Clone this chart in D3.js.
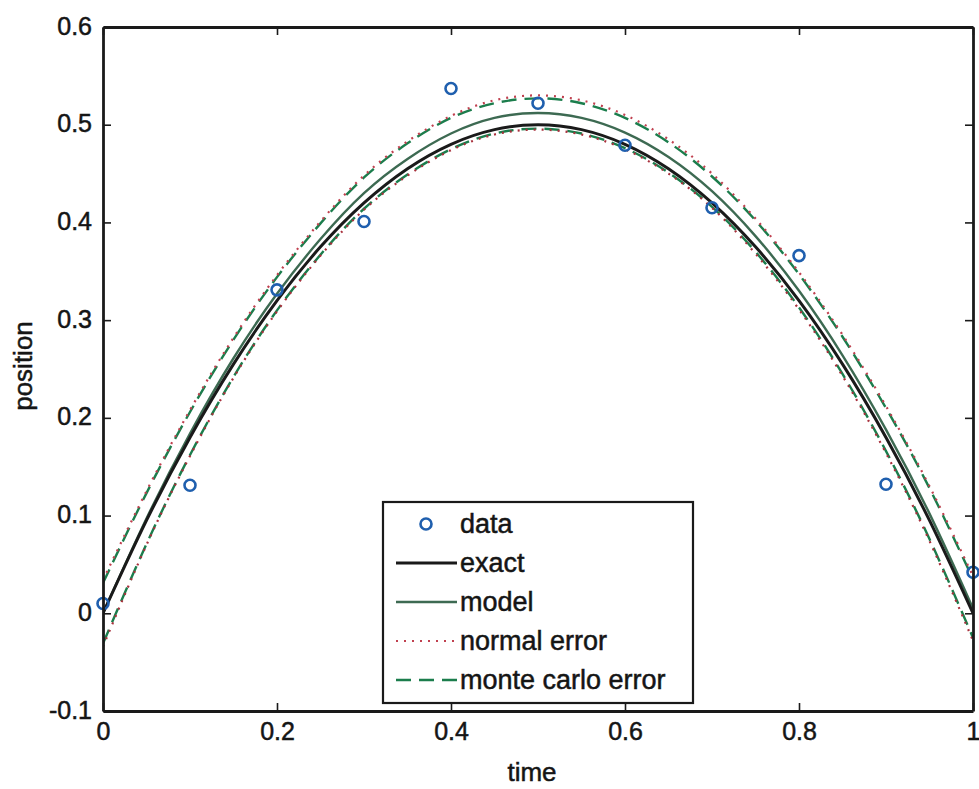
<!DOCTYPE html>
<html lang="en">
<head>
  <meta charset="UTF-8">
  <title>position vs time</title>
  <style>
    body { margin: 0; background: #fff; font-family: "Liberation Sans", Arial, sans-serif; }
    svg { display: block; }
    .tick text { font-size: 25px; fill: #151515; stroke: #151515; stroke-width: 0.5px; font-family: "Liberation Sans", Arial, sans-serif; }
    .label { font-size: 26px; fill: #151515; stroke: #151515; stroke-width: 0.5px; }
    .legend text { font-size: 27px; fill: #151515; stroke: #151515; stroke-width: 0.5px; }
  </style>
</head>
<body>
  <svg width="979" height="789"></svg>
  <script src="https://d3js.org/d3.v7.min.js"></script>
  <script>
    // sample times for the curves
    const times = [0, 0.05, 0.1, 0.15, 0.2, 0.25, 0.3, 0.35, 0.4, 0.45, 0.5,
                   0.55, 0.6, 0.65, 0.7, 0.75, 0.8, 0.85, 0.9, 0.95, 1];

    // measured points
    const dataT = [0, 0.1, 0.2, 0.3, 0.4, 0.5, 0.6, 0.7, 0.8, 0.9, 1];
    const dataY = [0.010, 0.131, 0.331, 0.401, 0.537, 0.522, 0.479, 0.415, 0.366, 0.132, 0.042];

    const exact = [0, 0.095, 0.18, 0.255, 0.32, 0.375, 0.42, 0.455, 0.48, 0.495, 0.5,
                   0.495, 0.48, 0.455, 0.42, 0.375, 0.32, 0.255, 0.18, 0.095, 0];
    const model = [0.000, 0.097, 0.184, 0.261, 0.327, 0.383, 0.430, 0.465, 0.491, 0.507, 0.512,
                   0.507, 0.492, 0.467, 0.432, 0.386, 0.330, 0.264, 0.188, 0.102, 0.005];

    const normalUpper = [0.034, 0.125, 0.208, 0.282, 0.346, 0.401, 0.448, 0.483, 0.509, 0.525, 0.530,
                         0.525, 0.510, 0.485, 0.450, 0.404, 0.349, 0.285, 0.212, 0.130, 0.038];
    const normalLower = [-0.034, 0.070, 0.161, 0.241, 0.309, 0.366, 0.413, 0.448, 0.474, 0.490, 0.495,
                         0.490, 0.475, 0.450, 0.415, 0.368, 0.311, 0.243, 0.164, 0.074, -0.028];
    const mcUpper = [0.031, 0.123, 0.206, 0.280, 0.344, 0.399, 0.446, 0.481, 0.507, 0.522, 0.527,
                     0.522, 0.507, 0.482, 0.447, 0.402, 0.347, 0.283, 0.210, 0.128, 0.035];
    const mcLower = [-0.031, 0.071, 0.162, 0.242, 0.310, 0.367, 0.414, 0.449, 0.475, 0.491, 0.496,
                     0.491, 0.476, 0.451, 0.416, 0.370, 0.313, 0.245, 0.166, 0.076, -0.025];

    const xTicks = [0, 0.2, 0.4, 0.6, 0.8, 1];
    const yTicks = [-0.1, 0, 0.1, 0.2, 0.3, 0.4, 0.5, 0.6];

    const svg = d3.select("svg");
    const m = { left: 103, right: 973, top: 27, bottom: 711 };

    const x = d3.scaleLinear().domain([0, 1]).range([m.left, m.right]);
    const y = d3.scaleLinear().domain([-0.1, 0.6]).range([m.bottom, m.top]);

    // MATLAB-style labels with a plain hyphen for negatives
    const fmt = d => d === 0 ? "0" : (d === 1 ? "1" : d.toFixed(1));

    const plot = svg.append("g");
    plot.append("clipPath").attr("id", "clip")
      .append("rect").attr("x", m.left).attr("y", m.top)
      .attr("width", m.right - m.left).attr("height", m.bottom - m.top);

    const line = d3.line().curve(d3.curveNatural).x((d, i) => x(times[i])).y(d => y(d));
    const curves = plot.append("g").attr("clip-path", "url(#clip)").attr("fill", "none");

    curves.append("path").datum(mcUpper).attr("d", line)
      .attr("stroke", "#1b7d4c").attr("stroke-width", 2.4).attr("stroke-dasharray", "15,8");
    curves.append("path").datum(mcLower).attr("d", line)
      .attr("stroke", "#1b7d4c").attr("stroke-width", 2.4).attr("stroke-dasharray", "15,8");
    curves.append("path").datum(normalUpper).attr("d", line)
      .attr("stroke", "#c0404f").attr("stroke-width", 2.2).attr("stroke-dasharray", "2,6");
    curves.append("path").datum(normalLower).attr("d", line)
      .attr("stroke", "#a8303c").attr("stroke-width", 2.2).attr("stroke-dasharray", "2,6");
    curves.append("path").datum(model).attr("d", line)
      .attr("stroke", "#3d6a52").attr("stroke-width", 2.4);
    curves.append("path").datum(exact).attr("d", line)
      .attr("stroke", "#1a1a1a").attr("stroke-width", 3);

    plot.append("g").selectAll("circle")
      .data(dataY)
      .join("circle")
      .attr("cx", (d, i) => x(dataT[i]))
      .attr("cy", d => y(d))
      .attr("r", 5.5)
      .attr("fill", "none")
      .attr("stroke", "#1f5fae")
      .attr("stroke-width", 2.6);

    // axes (box with inward ticks)
    const tickLen = 8;
    const xAxis = svg.append("g").attr("transform", `translate(0,${m.bottom})`)
      .call(d3.axisBottom(x).tickValues(xTicks).tickFormat(fmt).tickSizeInner(-tickLen).tickSizeOuter(0));
    const yAxis = svg.append("g").attr("transform", `translate(${m.left},0)`)
      .call(d3.axisLeft(y).tickValues(yTicks).tickFormat(fmt).tickSizeInner(-tickLen).tickSizeOuter(0).tickPadding(11));
    svg.append("g").attr("transform", `translate(0,${m.top})`)
      .call(d3.axisTop(x).tickValues(xTicks).tickFormat("").tickSizeInner(-tickLen).tickSizeOuter(0));
    svg.append("g").attr("transform", `translate(${m.right},0)`)
      .call(d3.axisRight(y).tickValues(yTicks).tickFormat("").tickSizeInner(-tickLen).tickSizeOuter(0));

    svg.selectAll(".domain").attr("stroke", "#1a1a1a").attr("stroke-width", 2.8);
    svg.selectAll(".tick line").attr("stroke", "#1a1a1a").attr("stroke-width", 1.6);
    xAxis.selectAll(".tick text").attr("y", 29).attr("dy", 0);
    yAxis.selectAll(".tick text").attr("dy", "0.28em");

    svg.append("text").attr("class", "label")
      .attr("x", 532).attr("y", 781)
      .attr("text-anchor", "middle").text("time");
    svg.append("text").attr("class", "label")
      .attr("transform", `translate(32,${366}) rotate(-90)`)
      .attr("text-anchor", "middle").text("position");

    // legend
    const legendItems = [
      { name: "data", type: "marker" },
      { name: "exact", color: "#1a1a1a", dash: null, w: 3 },
      { name: "model", color: "#3d6a52", dash: null, w: 2.4 },
      { name: "normal error", color: "#c0404f", dash: "2,6", w: 2.2 },
      { name: "monte carlo error", color: "#1b7d4c", dash: "15,8", w: 2.6 }
    ];
    const lg = svg.append("g").attr("class", "legend");
    lg.append("rect").attr("x", 383).attr("y", 502).attr("width", 310).attr("height", 201)
      .attr("fill", "#fff").attr("stroke", "#1a1a1a").attr("stroke-width", 2.2);
    const rows = lg.selectAll("g.row").data(legendItems).join("g")
      .attr("class", "row")
      .attr("transform", (d, i) => `translate(0,${524 + i * 39})`);
    rows.filter(d => d.type === "marker").append("circle")
      .attr("cx", 426).attr("cy", 0).attr("r", 5.5)
      .attr("fill", "none").attr("stroke", "#1f5fae").attr("stroke-width", 2.6);
    rows.filter(d => d.type !== "marker").append("line")
      .attr("x1", 396).attr("x2", 457).attr("y1", 0).attr("y2", 0)
      .attr("stroke", d => d.color).attr("stroke-width", d => d.w)
      .attr("stroke-dasharray", d => d.dash);
    rows.append("text").attr("x", 460).attr("y", 0).attr("dy", "0.35em").text(d => d.name);
  </script>
</body>
</html>
